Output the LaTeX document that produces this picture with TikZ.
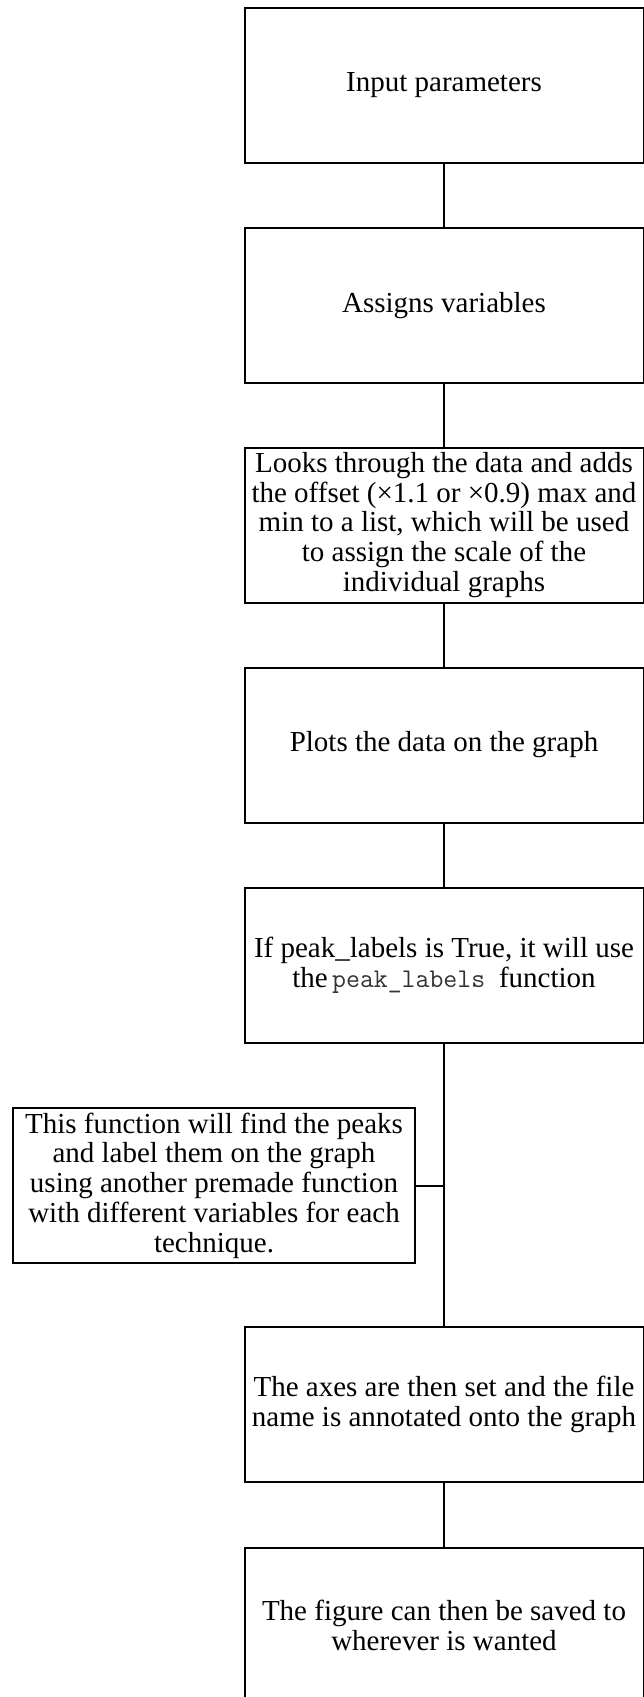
\documentclass[tikz,border=0pt]{standalone}
\usepackage{fontspec}
\setmainfont{Liberation Serif}
\begin{document}
\begin{tikzpicture}[x=1pt,y=-1pt,
  box/.style={draw=black,line width=2pt,rectangle,minimum width=399pt,minimum height=155pt,inner sep=2pt,align=center,font=\fontsize{29}{29.7}\selectfont},
  link/.style={line width=2pt,draw=black}]
\useasboundingbox (0,0) rectangle (644,1697);
\node[box] (b1) at (444,85.5) {Input parameters};
\node[box] (b2) at (444,305.5) {Assigns variables};
\node[box] (b3) at (444,525) {Looks through the data and adds\\the offset (×1.1 or ×0.9) max and\\min to a list, which will be used\\to assign the scale of the\\individual graphs};
\node[box] (b4) at (444,745) {Plots the data on the graph};
\node[box] (b5) at (444,965.5) {If peak\_labels is True, it will use\\the{\color{black!80}\ttfamily\fontsize{27}{29.7}\selectfont\,peak\_labels\ }function};
\node[box,minimum width=402pt] (s) at (214,1185.5) {This function will find the peaks\\and label them on the graph\\using another premade function\\with different variables for each\\technique.};
\node[box] (b6) at (444,1404.5) {The axes are then set and the file\\name is annotated onto the graph};
\node[box] (b7) at (444,1625.5) {The figure can then be saved to\\wherever is wanted};
\draw[link] (b1) -- (b2);
\draw[link] (b2) -- (b3);
\draw[link] (b3) -- (b4);
\draw[link] (b4) -- (b5);
\draw[link] (b5) -- (b6);
\draw[link] (s.east) -- (s.east -| b5.south);
\draw[link] (b6) -- (b7);
\end{tikzpicture}
\end{document}
